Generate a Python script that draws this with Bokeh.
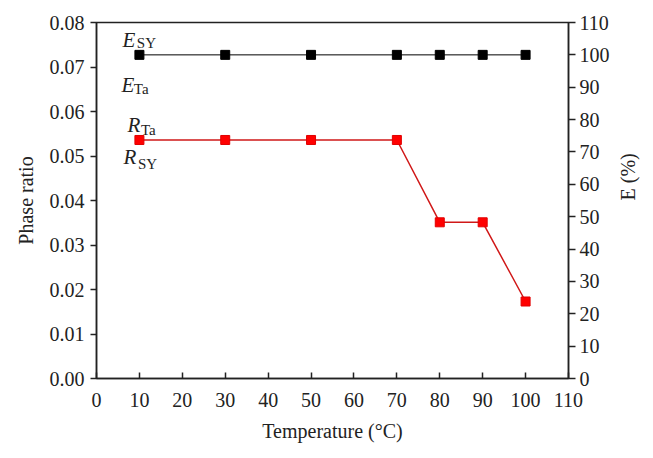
import math
from bokeh.plotting import figure
from bokeh.models import Range1d, LinearAxis, FixedTicker, NumeralTickFormatter, ColumnDataSource
from bokeh.core.properties import value
from bokeh.embed import file_html
from bokeh.resources import INLINE

# data
temperature = [10, 30, 50, 70, 80, 90, 100]
E_percent = [100, 100, 100, 100, 100, 100, 100]
phase_ratio = [0.0536, 0.0536, 0.0536, 0.0536, 0.0351, 0.0351, 0.0173]
x_ticks = [0, 10, 20, 30, 40, 50, 60, 70, 80, 90, 100, 110]
y_left_ticks = [0.0, 0.01, 0.02, 0.03, 0.04, 0.05, 0.06, 0.07, 0.08]
y_right_ticks = [0, 10, 20, 30, 40, 50, 60, 70, 80, 90, 100, 110]

FONT = "Liberation Serif"
FS = "20px"
INK = "#222222"

p = figure(frame_width=472, frame_height=356, output_backend="svg", toolbar_location=None,
           x_range=Range1d(0, 110), y_range=Range1d(0, 0.08),
           min_border_left=96, min_border_right=77, min_border_top=22, min_border_bottom=72)
p.xgrid.visible = False
p.ygrid.visible = False
p.outline_line_color = INK
p.outline_line_width = 1.5
p.background_fill_color = "white"
p.border_fill_color = "white"

p.extra_y_ranges = {"E": Range1d(0, 110)}
right = LinearAxis(y_range_name="E", axis_label="E (%)")
p.add_layout(right, "right")

for ax in [p.xaxis[0], p.yaxis[0], right]:
    ax.axis_line_width = 1.5
    ax.axis_line_color = INK
    ax.major_tick_line_color = INK
    ax.major_tick_line_width = 1.5
    ax.minor_tick_line_color = None
    ax.major_label_text_font = FONT
    ax.major_label_text_font_size = FS
    ax.major_label_text_color = INK
    ax.axis_label_text_font = FONT
    ax.axis_label_text_font_size = FS
    ax.axis_label_text_font_style = "normal"
    ax.axis_label_text_color = INK

p.xaxis.ticker = FixedTicker(ticks=x_ticks)
p.xaxis.major_tick_in = 6
p.xaxis.major_tick_out = 0
p.xaxis.major_label_standoff = 14
p.xaxis.axis_label = "Temperature (\u00b0C)"
p.xaxis.axis_label_standoff = 10

p.yaxis[0].ticker = FixedTicker(ticks=y_left_ticks)
p.yaxis[0].formatter = NumeralTickFormatter(format="0.00")
p.yaxis[0].major_tick_in = 0
p.yaxis[0].major_tick_out = 6
p.yaxis[0].major_label_standoff = 6
p.yaxis[0].axis_label = "Phase ratio"
p.yaxis[0].axis_label_standoff = 10

right.ticker = FixedTicker(ticks=y_right_ticks)
right.major_tick_in = 0
right.major_tick_out = 7
right.major_label_standoff = 4
right.axis_label_standoff = 15
if hasattr(right, "axis_label_orientation"):
    right.axis_label_orientation = math.pi / 2

src = ColumnDataSource(dict(t=temperature, e=E_percent, r=phase_ratio))
p.line("t", "e", source=src, y_range_name="E", line_color="black", line_width=1)
p.scatter("t", "e", source=src, y_range_name="E", marker="square", size=9,
          fill_color="black", line_color="black")
p.line("t", "r", source=src, line_color="#d01818", line_width=1.5)
p.scatter("t", "r", source=src, marker="square", size=9, fill_color="#ff0000", line_color="#e00000")

# series labels
main_x = [6.06, 5.83, 7.22, 6.29]
main_y = [0.0760, 0.0659, 0.0569, 0.0497]
main_t = ["E", "E", "R", "R"]
sub_x = [9.4, 8.7, 10.35, 9.65]
sub_y = [0.0753, 0.0650, 0.0558, 0.0483]
sub_t = ["SY", "Ta", "Ta", "SY"]
p.text(x=main_x, y=main_y, text=main_t, text_font=value(FONT), text_font_style="italic",
       text_font_size="21px", text_baseline="alphabetic", text_align="left", text_color=INK)
p.text(x=sub_x, y=sub_y, text=sub_t, text_font=value(FONT),
       text_font_size="15px", text_baseline="alphabetic", text_align="left", text_color=INK)

open("out.html", "w").write(file_html(p, INLINE))
